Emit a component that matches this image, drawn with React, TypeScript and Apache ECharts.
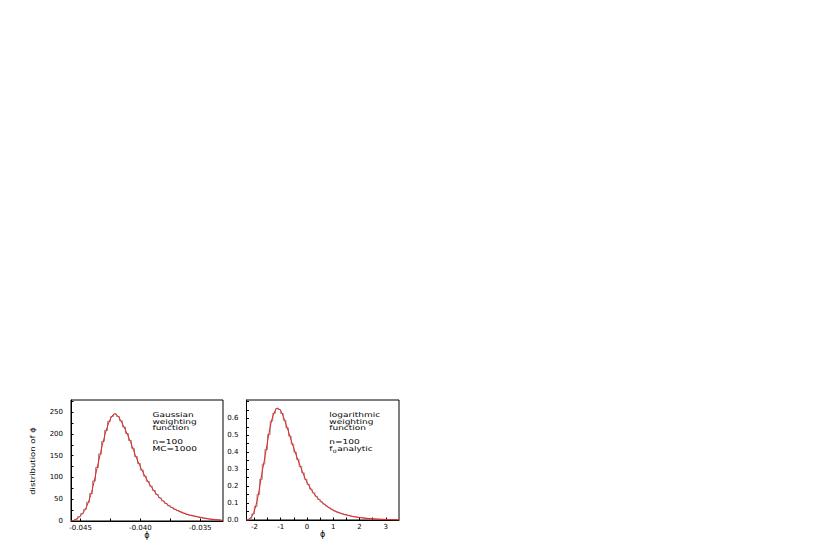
import React, { useEffect, useRef } from "react";
import * as echarts from "echarts";

// ---------- Left panel: Gaussian weighting function ----------
const leftBinStart = -0.04575;
const leftBinWidth = 0.00025;
const leftCounts = [
  1, 4, 10, 17, 27, 43, 63, 92, 123, 154,
  183, 208, 229, 240, 246, 240, 230, 216, 201, 185,
  167, 148, 132, 117, 103, 91, 80, 70, 61, 53,
  46, 40, 35, 31, 27, 24, 21, 18, 15.5, 13.5,
  12, 10.5, 9, 7.5, 6.5, 5, 4.5, 3.5, 3, 2.5,
];
const leftCurveX = [
  -0.0458, -0.04542, -0.045, -0.04458, -0.04417, -0.04389, -0.04361, -0.04333,
  -0.04306, -0.04278, -0.0425, -0.04225, -0.04208, -0.04188, -0.04167, -0.04125,
  -0.04083, -0.04042, -0.04, -0.03958, -0.03917, -0.03875, -0.03833, -0.0375,
  -0.03667, -0.03583, -0.035, -0.03417, -0.0331,
];
const leftCurveY = [
  0, 3, 12, 28, 58, 88, 123, 157,
  188, 215, 235, 245, 246, 241, 232, 209,
  182, 151, 124, 101, 82, 65, 52, 33,
  21, 13, 8, 4, 1.5,
];
const leftXTicks = [-0.045, -0.0425, -0.04, -0.0375, -0.035];
const leftXLabels = [-0.045, -0.04, -0.035];
const leftYTicks = [0, 25, 50, 75, 100, 125, 150, 175, 200, 225, 250, 275];
const leftYLabels = [0, 50, 100, 150, 200, 250];

// ---------- Right panel: logarithmic weighting function ----------
const rightBinStart = -2.3;
const rightBinWidth = 0.1;
const rightCounts = [
  0.0, 0.01, 0.035, 0.08, 0.15, 0.24, 0.33, 0.415, 0.505, 0.583,
  0.63, 0.657, 0.652, 0.628, 0.588, 0.543, 0.495, 0.447, 0.4, 0.358,
  0.316, 0.278, 0.24, 0.21, 0.182, 0.16, 0.14, 0.122, 0.107, 0.094,
  0.082, 0.072, 0.063, 0.054, 0.047, 0.041, 0.036, 0.031, 0.027, 0.023,
  0.02, 0.017, 0.015, 0.013, 0.011, 0.009, 0.008, 0.007, 0.006, 0.005,
  0.004, 0.004, 0.003, 0.003, 0.002, 0.002, 0.002, 0.001,
];
const rightCurveX = [
  -2.3, -2.2, -2.1, -1.97, -1.85, -1.72, -1.59, -1.47, -1.34, -1.21,
  -1.13, -1.0, -0.9, -0.8, -0.7, -0.6, -0.45, -0.26, -0.07, 0.12,
  0.37, 0.62, 1.0, 1.38, 1.76, 2.4, 3.0, 3.5,
];
const rightCurveY = [
  0, 0.005, 0.02, 0.07, 0.15, 0.27, 0.38, 0.49, 0.59, 0.645,
  0.66, 0.645, 0.61, 0.565, 0.52, 0.47, 0.4, 0.32, 0.245, 0.19,
  0.135, 0.098, 0.057, 0.035, 0.02, 0.008, 0.003, 0.001,
];
const rightXTicks = [-2, -1.5, -1, -0.5, 0, 0.5, 1, 1.5, 2, 2.5, 3];
const rightXLabels = [-2, -1, 0, 1, 2, 3];
const rightYTicks = [0, 0.05, 0.1, 0.15, 0.2, 0.25, 0.3, 0.35, 0.4, 0.45, 0.5, 0.55, 0.6, 0.65, 0.7];
const rightYLabels = [0, 0.1, 0.2, 0.3, 0.4, 0.5, 0.6];

const FONT = "DejaVu Sans";
const HIST_COLOR = "#909090";
const CURVE_COLOR = "#f21a1a";

function histData(start: number, width: number, counts: number[]) {
  const d: number[][] = counts.map((c, i) => [start + i * width, c]);
  d.push([start + counts.length * width, counts[counts.length - 1]]);
  return d;
}

function xAxisCfg(gridIndex: number, min: number, max: number, ticks: number[], labels: number[], fmt: (v: number) => string) {
  return {
    type: "value",
    gridIndex,
    min,
    max,
    name: "ϕ",
    nameLocation: "middle",
    nameGap: 9,
    nameTextStyle: { fontFamily: FONT, fontSize: 8, color: "#000" },
    axisLine: { show: true, onZero: false, lineStyle: { color: "#000", width: 1 } },
    axisTick: { show: true, inside: true, length: 2.5, customValues: ticks, lineStyle: { color: "#000", width: 1 } },
    axisLabel: { customValues: labels, formatter: fmt, fontFamily: FONT, fontSize: 7, color: "#000", margin: 3 },
    splitLine: { show: false },
  };
}

function yAxisCfg(gridIndex: number, max: number, ticks: number[], labels: number[], fmt: (v: number) => string) {
  return {
    type: "value",
    gridIndex,
    min: 0,
    max,
    axisLine: { show: true, onZero: false, lineStyle: { color: "#000", width: 1 } },
    axisTick: { show: true, inside: true, length: 2.5, customValues: ticks, lineStyle: { color: "#000", width: 1 } },
    axisLabel: { customValues: labels, formatter: fmt, fontFamily: FONT, fontSize: 7, color: "#000", margin: 8 },
    splitLine: { show: false },
  };
}

function txt(x: number, y: number, text: string, fontSize = 9) {
  return {
    type: "text",
    x,
    y,
    scaleY: 0.75,
    silent: true,
    style: {
      text,
      fontFamily: FONT,
      fontSize,
      lineHeight: 8.8,
      fill: "#000",
      align: "left",
      verticalAlign: "top",
    },
  };
}

export default function App() {
  const ref = useRef<HTMLDivElement>(null);
  useEffect(() => {
    if (!ref.current) return;
    const chart = echarts.init(ref.current, undefined, { renderer: "svg" });
    const option: any = {
      animation: false,
      backgroundColor: "#fff",
      grid: [
        { left: 71, top: 400, width: 152, height: 121, show: true, borderColor: "#000", borderWidth: 1, backgroundColor: "transparent" },
        { left: 246.5, top: 400, width: 152.5, height: 120, show: true, borderColor: "#000", borderWidth: 1, backgroundColor: "transparent" },
      ],
      xAxis: [
        xAxisCfg(0, -0.0458, -0.0331, leftXTicks, leftXLabels, (v: number) => v.toFixed(3)),
        xAxisCfg(1, -2.3, 3.5, rightXTicks, rightXLabels, (v: number) => String(Math.round(v))),
      ],
      yAxis: [
        yAxisCfg(0, 278, leftYTicks, leftYLabels, (v: number) => String(Math.round(v))),
        yAxisCfg(1, 0.708, rightYTicks, rightYLabels, (v: number) => v.toFixed(1)),
      ],
      series: [
        {
          type: "line",
          xAxisIndex: 0,
          yAxisIndex: 0,
          step: "end",
          showSymbol: false,
          data: histData(leftBinStart, leftBinWidth, leftCounts),
          lineStyle: { color: HIST_COLOR, width: 1 },
          z: 2,
        },
        {
          type: "line",
          xAxisIndex: 0,
          yAxisIndex: 0,
          smooth: 0.3,
          showSymbol: false,
          data: leftCurveX.map((x, i) => [x, leftCurveY[i]]),
          lineStyle: { color: CURVE_COLOR, width: 1 },
          z: 3,
        },
        {
          type: "line",
          xAxisIndex: 1,
          yAxisIndex: 1,
          step: "end",
          showSymbol: false,
          data: histData(rightBinStart, rightBinWidth, rightCounts),
          lineStyle: { color: HIST_COLOR, width: 1 },
          z: 2,
        },
        {
          type: "line",
          xAxisIndex: 1,
          yAxisIndex: 1,
          smooth: 0.3,
          showSymbol: false,
          data: rightCurveX.map((x, i) => [x, rightCurveY[i]]),
          lineStyle: { color: CURVE_COLOR, width: 1 },
          z: 3,
        },
      ],
      graphic: [
        txt(152.5, 411.6, "Gaussian\nweighting\nfunction"),
        txt(152.5, 439, "n=100\nMC=1000"),
        txt(329.3, 411.6, "logarithmic\nweighting\nfunction"),
        txt(329.3, 439, "n=100"),
        txt(329.3, 445.6, "f"),
        txt(332.8, 448.2, "0", 6),
        txt(337.3, 445.6, "analytic"),
        {
          type: "text",
          x: 32.7,
          y: 461,
          rotation: Math.PI / 2,
          scaleY: 0.8,
          silent: true,
          style: {
            text: "distribution of ϕ",
            fontFamily: FONT,
            fontSize: 8.5,
            fill: "#000",
            align: "center",
            verticalAlign: "middle",
          },
        },
      ],
    };
    chart.setOption(option);
    return () => chart.dispose();
  }, []);
  return <div ref={ref} style={{ position: "fixed", left: 0, top: 0, width: 824, height: 551 }} />;
}
